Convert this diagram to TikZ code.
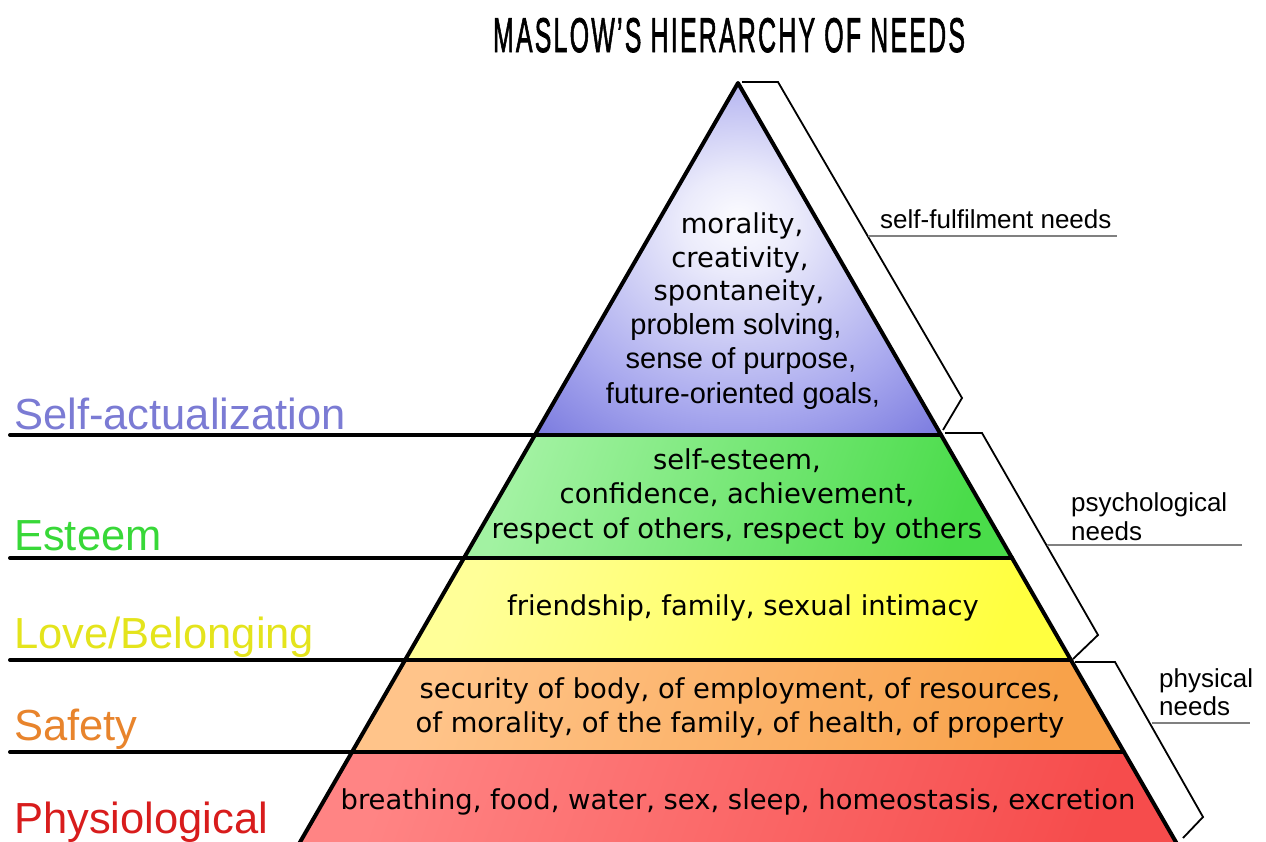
\documentclass[tikz,border=0pt]{standalone}
\usepackage{fontspec}
\setmainfont{DejaVu Sans}
\newfontfamily\lib{Liberation Sans}
\newfontfamily\titlefont[FakeBold=2,LetterSpace=9]{Liberation Sans}
\definecolor{glowA}{HTML}{FBFBFF}
\definecolor{glowB}{HTML}{EBEBFB}
\definecolor{glowC}{HTML}{A8A8EE}
\definecolor{glowD}{HTML}{7878DE}
\definecolor{gA}{HTML}{A2F2A2}
\definecolor{gB}{HTML}{4ADC4A}
\definecolor{yA}{HTML}{FFFF98}
\definecolor{yB}{HTML}{FFFF40}
\definecolor{oA}{HTML}{FFC48A}
\definecolor{oB}{HTML}{F8A24A}
\definecolor{rA}{HTML}{FF8484}
\definecolor{rB}{HTML}{F64C4C}
\definecolor{cSelf}{HTML}{7B7BD4}
\definecolor{cEst}{HTML}{38D838}
\definecolor{cLove}{HTML}{E4E41C}
\definecolor{cSaf}{HTML}{E8842C}
\definecolor{cPhy}{HTML}{D81C1C}
\pgfdeclareradialshading{topglow}{\pgfpoint{0bp}{6bp}}{color(0bp)=(glowA); color(7bp)=(glowB); color(25bp)=(glowC); color(37bp)=(glowD); color(50bp)=(glowD)}
\begin{document}
\begin{tikzpicture}[x=1pt,y=-1pt,
  edge/.style={line width=4pt, line join=round, line cap=round},
  bracket/.style={line width=1.8pt, line join=miter},
  uline/.style={line width=1.3pt, draw=black!50},
  inner/.style={font=\fontsize{27.4}{33}\selectfont, anchor=base, inner sep=0pt},
  innerl/.style={font=\lib\fontsize{29}{33}\selectfont, anchor=base, inner sep=0pt},
  side/.style={font=\lib\fontsize{43.5}{48}\selectfont, anchor=base west, inner sep=0pt},
  group/.style={font=\lib\fontsize{26}{30}\selectfont, anchor=base west, inner sep=0pt}]
\useasboundingbox (0,0) rectangle (1266,841);
\clip (0,0) rectangle (1266,841);
\fill[white] (0,0) rectangle (1266,841);

% pyramid corners
\coordinate (apex) at (738,83);
\coordinate (l1) at (534.9,435);  \coordinate (r1) at (941.1,435);
\coordinate (l2) at (463.9,558);  \coordinate (r2) at (1012.1,558);
\coordinate (l3) at (405.1,660);  \coordinate (r3) at (1070.9,660);
\coordinate (l4) at (352.0,752);  \coordinate (r4) at (1124.0,752);
\coordinate (l5) at (289.7,860);  \coordinate (r5) at (1186.3,860);
% left ends of level lines
\coordinate (s1) at (10,435);
\coordinate (s2) at (10,558);
\coordinate (s3) at (10,660);
\coordinate (s4) at (10,752);

% fills
\shade[shading=topglow] (apex) -- (r1) -- (l1) -- cycle;
\shade[left color=gA, right color=gB, shading angle=70] (l1) -- (r1) -- (r2) -- (l2) -- cycle;
\shade[left color=yA, right color=yB, shading angle=70] (l2) -- (r2) -- (r3) -- (l3) -- cycle;
\shade[left color=oA, right color=oB, shading angle=70] (l3) -- (r3) -- (r4) -- (l4) -- cycle;
\shade[left color=rA, right color=rB, shading angle=70] (l4) -- (r4) -- (r5) -- (l5) -- cycle;

% outline
\draw[edge] (l5) -- (apex) -- (r5);
\draw[edge] (s1) -- (r1);
\draw[edge] (s2) -- (r2);
\draw[edge] (s3) -- (r3);
\draw[edge] (s4) -- (r4);

% brackets
\coordinate (b1a) at (742,82);  \coordinate (b1b) at (778,82);  \coordinate (b1c) at (962,398);  \coordinate (b1d) at (943,430);
\coordinate (b2a) at (945,433); \coordinate (b2b) at (982,433); \coordinate (b2c) at (1098,635); \coordinate (b2d) at (1073,659);
\coordinate (b3a) at (1075,662);\coordinate (b3b) at (1115,662);\coordinate (b3c) at (1203,817); \coordinate (b3d) at (1183,838);
\draw[bracket] (b1a) -- (b1b) -- (b1c) -- (b1d);
\draw[bracket] (b2a) -- (b2b) -- (b2c) -- (b2d);
\draw[bracket] (b3a) -- (b3b) -- (b3c) -- (b3d);

% group labels
\coordinate (u1a) at (868,236);  \coordinate (u1b) at (1117,236);
\coordinate (u2a) at (1047,545); \coordinate (u2b) at (1242,545);
\coordinate (u3a) at (1152,723); \coordinate (u3b) at (1250,723);
\draw[uline] (u1a) -- (u1b);
\draw[uline] (u2a) -- (u2b);
\draw[uline] (u3a) -- (u3b);
\node[group] (gself) at (880,228) {self-fulfilment needs};
\node[group] (gpsy1) at (1071,511) {psychological};
\node[group] (gpsy2) at (1071,540) {needs};
\node[group] (gphy1) at (1159,687) {physical};
\node[group] (gphy2) at (1159,715) {needs};

% title
\node[inner sep=0pt, anchor=base] (title) at (729,52)
  {\resizebox{472pt}{34pt}{\titlefont MASLOW’S HIERARCHY OF NEEDS}};

% side labels
\node[side, text=cSelf] (lself) at (14,429) {Self-actualization};
\node[side, text=cEst]  (lest)  at (14,550) {Esteem};
\node[side, text=cLove] (llove) at (14,648) {Love/Belonging};
\node[side, text=cSaf]  (lsaf)  at (14,740) {Safety};
\node[side, text=cPhy]  (lphy)  at (14,833) {Physiological};

% contents
\node[inner] (t1) at (742,233) {morality,};
\node[inner] (t2) at (740,267) {creativity,};
\node[inner] (t3) at (739,300) {spontaneity,};
\node[innerl] (t4) at (736,334) {problem solving,};
\node[innerl] (t5) at (741,368) {sense of purpose,};
\node[innerl] (t6) at (743,403) {future-oriented goals,};

\node[inner] (e1) at (737,469) {self-esteem,};
\node[inner] (e2) at (737,503) {confidence, achievement,};
\node[inner] (e3) at (737,538) {respect of others, respect by others};

\node[inner] (f1) at (743,615) {friendship, family, sexual intimacy};

\node[inner] (s1t) at (740,698) {security of body, of employment, of resources,};
\node[inner] (s2t) at (740,732) {of morality, of the family, of health, of property};

\node[inner] (p1) at (738,809) {breathing, food, water, sex, sleep, homeostasis, excretion};
\end{tikzpicture}
\end{document}
